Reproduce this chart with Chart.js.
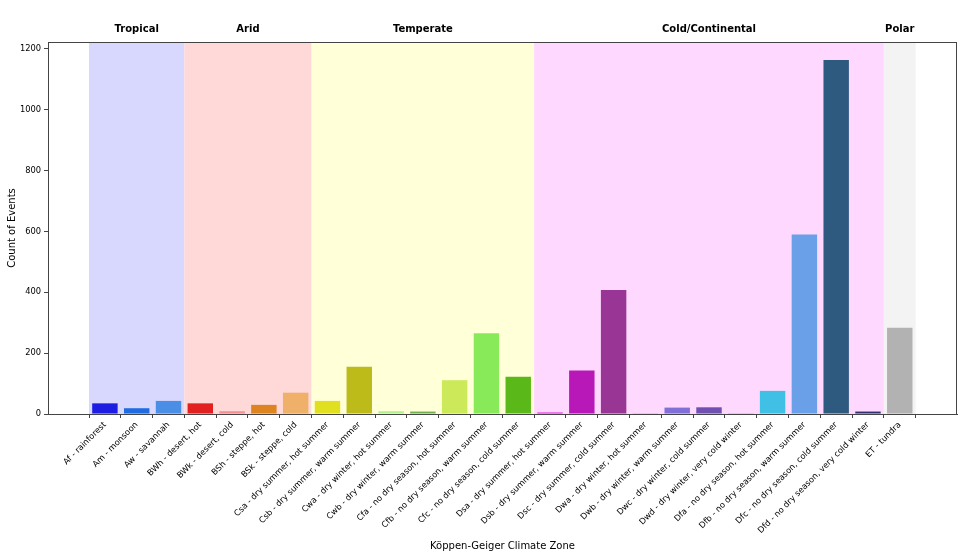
<!DOCTYPE html>
<html>
<head>
<meta charset="utf-8">
<script src="https://cdn.jsdelivr.net/npm/chart.js@4"></script>
<style>
  body { margin: 0; background: #fff; }
  #wrap { width: 965px; height: 556px; }
</style>
</head>
<body>
<div id="wrap"><canvas id="chart"></canvas></div>
<script>
const zones = [
  'Af - rainforest', 'Am - monsoon', 'Aw - savannah',
  'BWh - desert, hot', 'BWk - desert, cold', 'BSh - steppe, hot', 'BSk - steppe, cold',
  'Csa - dry summer, hot summer', 'Csb - dry summer, warm summer',
  'Cwa - dry winter, hot summer', 'Cwb - dry winter, warm summer',
  'Cfa - no dry season, hot summer', 'Cfb - no dry season, warm summer', 'Cfc - no dry season, cold summer',
  'Dsa - dry summer, hot summer', 'Dsb - dry summer, warm summer', 'Dsc - dry summer, cold summer',
  'Dwa - dry winter, hot summer', 'Dwb - dry winter, warm summer', 'Dwc - dry winter, cold summer',
  'Dwd - dry winter, very cold winter',
  'Dfa - no dry season, hot summer', 'Dfb - no dry season, warm summer', 'Dfc - no dry season, cold summer',
  'Dfd - no dry season, very cold winter',
  'ET - tundra'
];
const counts = [35, 19, 43, 35, 9, 30, 70, 43, 155, 9, 8, 111, 265, 122, 5, 143, 407, 1, 21, 22, 2, 76, 590, 1163, 8, 283];
const barColors = [
  '#1c1ce3', '#1f6be0', '#4a8ee6',
  '#e32020', '#f09090', '#dd8420', '#efb06a',
  '#e0e020', '#bcbb1a', '#b0f090', '#70b050', '#cce95a', '#88ea58', '#5ab818',
  '#e020e0', '#b818b8', '#983595', '#8a70c0', '#8070d8', '#7050b0', '#401050',
  '#40c0e4', '#6aa0e8', '#2e5a80', '#303070',
  '#b2b2b2'
];
// climate groups: name, first and last zone index, background
const groupNames = ['Tropical', 'Arid', 'Temperate', 'Cold/Continental', 'Polar'];
const groupStart = [0, 3, 7, 14, 25];
const groupEnd = [2, 6, 13, 24, 25];
const groupColors = ['#d8d8ff', '#ffd8d8', '#ffffd8', '#ffd8ff', '#f3f3f3'];
const yTicks = [0, 200, 400, 600, 800, 1000, 1200];

const font = "'DejaVu Sans', sans-serif";

const groupBands = {
  id: 'groupBands',
  beforeDatasetsDraw(chart) {
    const { ctx, chartArea, scales } = chart;
    ctx.save();
    groupNames.forEach((g, i) => {
      const x0 = scales.x.getPixelForValue(groupStart[i] - 0.5);
      const x1 = scales.x.getPixelForValue(groupEnd[i] + 0.5);
      ctx.fillStyle = groupColors[i];
      ctx.fillRect(x0, chartArea.top, x1 - x0, chartArea.bottom - chartArea.top);
    });
    ctx.restore();
  },
  afterDraw(chart) {
    const { ctx, chartArea, scales } = chart;
    ctx.save();
    ctx.strokeStyle = '#444';
    ctx.lineWidth = 1;
    ctx.strokeRect(chartArea.left + 0.5, chartArea.top + 0.5, chartArea.right - chartArea.left - 1, chartArea.bottom - chartArea.top);
    ctx.fillStyle = '#000';
    ctx.font = 'bold 10px ' + font;
    ctx.textAlign = 'center';
    ctx.textBaseline = 'middle';
    groupNames.forEach((g, i) => {
      const x = scales.x.getPixelForValue((groupStart[i] + groupEnd[i]) / 2);
      ctx.fillText(g, x, chartArea.top - 13);
    });
    ctx.restore();
  }
};

new Chart(document.getElementById('chart'), {
  type: 'bar',
  data: {
    datasets: [{
      data: counts.map((v, i) => ({ x: i, y: v })),
      backgroundColor: barColors,
      borderWidth: 0,
      barPercentage: 1,
      categoryPercentage: 0.8
    }]
  },
  options: {
    responsive: true,
    maintainAspectRatio: false,
    animation: false,
    layout: { padding: { top: 42, right: 8, left: 0, bottom: 0 } },
    plugins: { legend: { display: false }, tooltip: { enabled: false } },
    scales: {
      x: {
        type: 'linear',
        offset: false,
        min: -1.79,
        max: 26.8,
        afterBuildTicks: s => { s.ticks = zones.map((z, i) => ({ value: i })); },
        afterFit: s => { s.height = 142; },
        grid: { drawOnChartArea: false, tickLength: 4, color: '#444' },
        border: { color: '#444' },
        ticks: {
          autoSkip: false, minRotation: 45, maxRotation: 45,
          color: '#000', font: { family: font, size: 8.3 }, padding: 2,
          callback: v => zones[v]
        },
        title: { display: true, text: 'Köppen-Geiger Climate Zone', color: '#000', font: { family: font, size: 10 } }
      },
      y: {
        min: 0,
        max: 1222,
        afterBuildTicks: s => { s.ticks = yTicks.map(v => ({ value: v })); },
        afterFit: s => { s.width = 48; },
        grid: { drawOnChartArea: false, tickLength: 4, color: '#444' },
        border: { color: '#444' },
        ticks: { color: '#000', font: { family: font, size: 8.3 }, padding: 3, callback: v => String(v) },
        title: { display: true, text: 'Count of Events', color: '#000', font: { family: font, size: 10 }, padding: { top: 6, bottom: 4 } }
      }
    }
  },
  plugins: [groupBands]
});
</script>
</body>
</html>
